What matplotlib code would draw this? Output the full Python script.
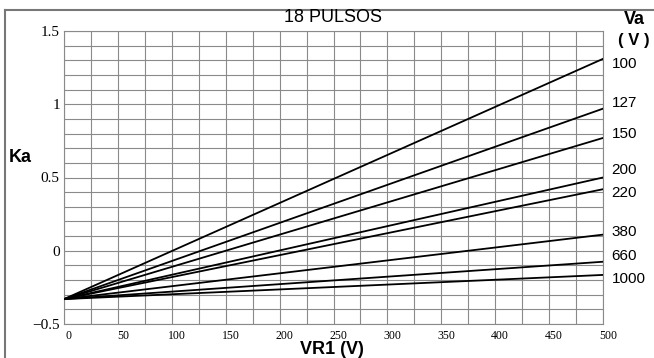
import numpy as np
import matplotlib.pyplot as plt
from matplotlib.lines import Line2D
from matplotlib.transforms import ScaledTranslation

# data
va_labels = ['100', '127', '150', '200', '220', '380', '660', '1000']
vr1 = [0, 500]
ka_start = -0.33
ka_end = [1.31, 0.97, 0.77, 0.50, 0.42, 0.11, -0.075, -0.165]
label_y = [1.277, 1.007, 0.797, 0.554, 0.392, 0.128, -0.034, -0.196]

x_ticks = [0, 50, 100, 150, 200, 250, 300, 350, 400, 450, 500]
y_ticks = [-0.5, 0, 0.5, 1, 1.5]
y_ticklabels = ['\u22120.5', '0', '0.5', '1', '1.5']

fig = plt.figure(figsize=(6.54, 3.58), dpi=100)
ax = fig.add_axes([64/654, 34/358, 539/654, 293/358])

grid_col = '#8a8a8a'
for i, lab in enumerate(va_labels):
    ax.plot(vr1, [ka_start, ka_end[i]], color='black', lw=1.3, zorder=3)
    ax.text(508, label_y[i], lab, fontsize=11, family='Liberation Sans',
            ha='left', va='center', clip_on=False)

ax.set_xlim(0, 500)
ax.set_ylim(-0.5, 1.5)
ax.set_xticks(x_ticks)
ax.set_xticklabels([str(v) for v in x_ticks], family='Liberation Serif', fontsize=8.5)
ax.set_yticks(y_ticks)
ax.set_yticklabels(y_ticklabels, family='Liberation Serif', fontsize=11)
ax.set_xticks(np.arange(0, 501, 25), minor=True)
ax.set_yticks(np.arange(-0.5, 1.51, 0.1), minor=True)
ax.tick_params(which='both', length=0)
ax.tick_params(axis='x', pad=4)
ax.tick_params(axis='y', pad=3)
ax.grid(which='both', color=grid_col, lw=0.8)
for s in ax.spines.values():
    s.set_color(grid_col)
    s.set_linewidth(0.8)

off = ScaledTranslation(5/100, 0, fig.dpi_scale_trans)
for t in ax.get_xticklabels():
    t.set_transform(t.get_transform() + off)

fig.text(333/654, 1 - 18/358, '18 PULSOS', fontsize=13, family='Liberation Sans',
         ha='center', va='center')
fig.text(20/654, 1 - 157/358, 'Ka', fontsize=13, family='Liberation Sans',
         weight='bold', ha='center', va='center')
fig.text(332/654, 1 - 349/358, 'VR1 (V)', fontsize=13, family='Liberation Sans',
         weight='bold', ha='center', va='center')
fig.text(634/654, 1 - 19/358, 'Va', fontsize=13, family='Liberation Sans',
         weight='bold', ha='center', va='center')
fig.text(634/654, 1 - 40/358, '( V )', fontsize=12, family='Liberation Sans',
         weight='bold', ha='center', va='center')

# outer frame lines (top and left only)
fig.add_artist(Line2D([5/654, 1], [1 - 10/358, 1 - 10/358], color='#777777', lw=1.5,
                      transform=fig.transFigure))
fig.add_artist(Line2D([5/654, 5/654], [0, 1 - 10/358], color='#777777', lw=1.5,
                      transform=fig.transFigure))

fig.savefig('out.png', dpi=100)
